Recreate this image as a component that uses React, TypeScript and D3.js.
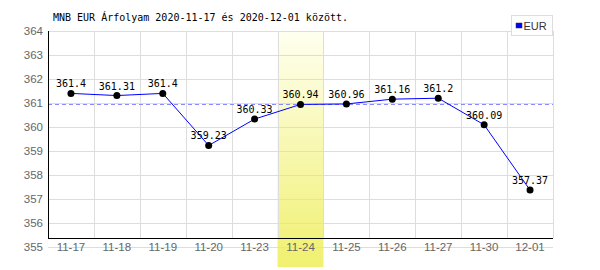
import React from "react";
import * as d3 from "d3";

const categories = ["11-17", "11-18", "11-19", "11-20", "11-23", "11-24", "11-25", "11-26", "11-27", "11-30", "12-01"];
const values = [361.4, 361.31, 361.4, 359.23, 360.33, 360.94, 360.96, 361.16, 361.2, 360.09, 357.37];
const valueLabels = ["361.4", "361.31", "361.4", "359.23", "360.33", "360.94", "360.96", "361.16", "361.2", "360.09", "357.37"];
const yTicks = [355, 356, 357, 358, 359, 360, 361, 362, 363, 364];
const highlight = "11-24";
const refValue = 360.94;
const title = "MNB EUR Árfolyam 2020-11-17 és 2020-12-01 között.";
const seriesName = "EUR";

export default function App() {
  const W = 600, H = 270;
  const left = 48, right = 553, top = 31, bottom = 247;
  const x = d3.scaleBand<string>().domain(categories).range([left, right]).padding(0);
  const y = d3.scaleLinear().domain([355, 364]).range([bottom, top]);
  const axisY = bottom - 9;
  const cx = (c: string) => (x(c) as number) + x.bandwidth() / 2;
  const line = d3.line<number>().x((_, i) => cx(categories[i])).y((d) => y(d));
  const mono = "'DejaVu Sans Mono', monospace";
  const sans = "'Liberation Sans', Arial, sans-serif";
  return (
    <svg width={W} height={H} style={{ position: "absolute", left: 0, top: 0, background: "#fff" }}>
      <defs>
        <linearGradient id="hl" x1="0" y1="0" x2="0" y2="1">
          <stop offset="0" stopColor="#fffff0" />
          <stop offset="1" stopColor="#f0f070" />
        </linearGradient>
      </defs>
      <rect width={W} height={H} fill="#fff" />
      <rect x={x(highlight)} y={top} width={x.bandwidth()} height={H - 3 - top} fill="url(#hl)" />
      {yTicks.map((t) => (
        <line key={"h" + t} x1={left} x2={right} y1={Math.round(y(t)) + 0.5} y2={Math.round(y(t)) + 0.5} stroke="#dddddd" />
      ))}
      {categories.map((c) => (
        <line key={"v" + c} x1={Math.round((x(c) as number) + x.bandwidth()) + 0.5} x2={Math.round((x(c) as number) + x.bandwidth()) + 0.5} y1={top} y2={axisY} stroke="#dddddd" />
      ))}
      <line x1={left} x2={right} y1={Math.round(y(refValue)) + 0.5} y2={Math.round(y(refValue)) + 0.5} stroke="#8888ff" strokeDasharray="4,3" />
      <line x1={left + 0.5} x2={left + 0.5} y1={top} y2={axisY} stroke="#000" />
      <line x1={left} x2={right} y1={axisY + 0.5} y2={axisY + 0.5} stroke="#000" />
      {yTicks.map((t) => (
        <text key={"yt" + t} x={43} y={y(t)} dy="0.35em" textAnchor="end" fontFamily={sans} fontSize={11.5} fill="#666">{t}</text>
      ))}
      {categories.map((c) => (
        <text key={"xt" + c} x={cx(c)} y={bottom} dy="0.35em" textAnchor="middle" fontFamily={sans} fontSize={11.5} fill="#666">{c}</text>
      ))}
      <path d={line(values) || ""} fill="none" stroke="#0000ff" strokeWidth={1} />
      {values.map((v, i) => (
        <circle key={"p" + i} cx={cx(categories[i])} cy={y(v)} r={3.5} fill="#000" />
      ))}
      {values.map((v, i) => (
        <text key={"l" + i} x={cx(categories[i])} y={y(v) - 6} textAnchor="middle" fontFamily={mono} fontSize={10} fill="#000">{valueLabels[i]}</text>
      ))}
      <text x={53} y={21} fontFamily={mono} fontSize={10} fill="#000">{title}</text>
      <rect x={511.5} y={15.5} width={41} height={20} fill="#fff" stroke="#dddddd" />
      <rect x={516} y={23} width={6} height={5} fill="#0000ff" stroke="#333" strokeWidth={0.5} />
      <text x={523.5} y={29.5} fontFamily={sans} fontSize={11} fill="#333">{seriesName}</text>
    </svg>
  );
}
